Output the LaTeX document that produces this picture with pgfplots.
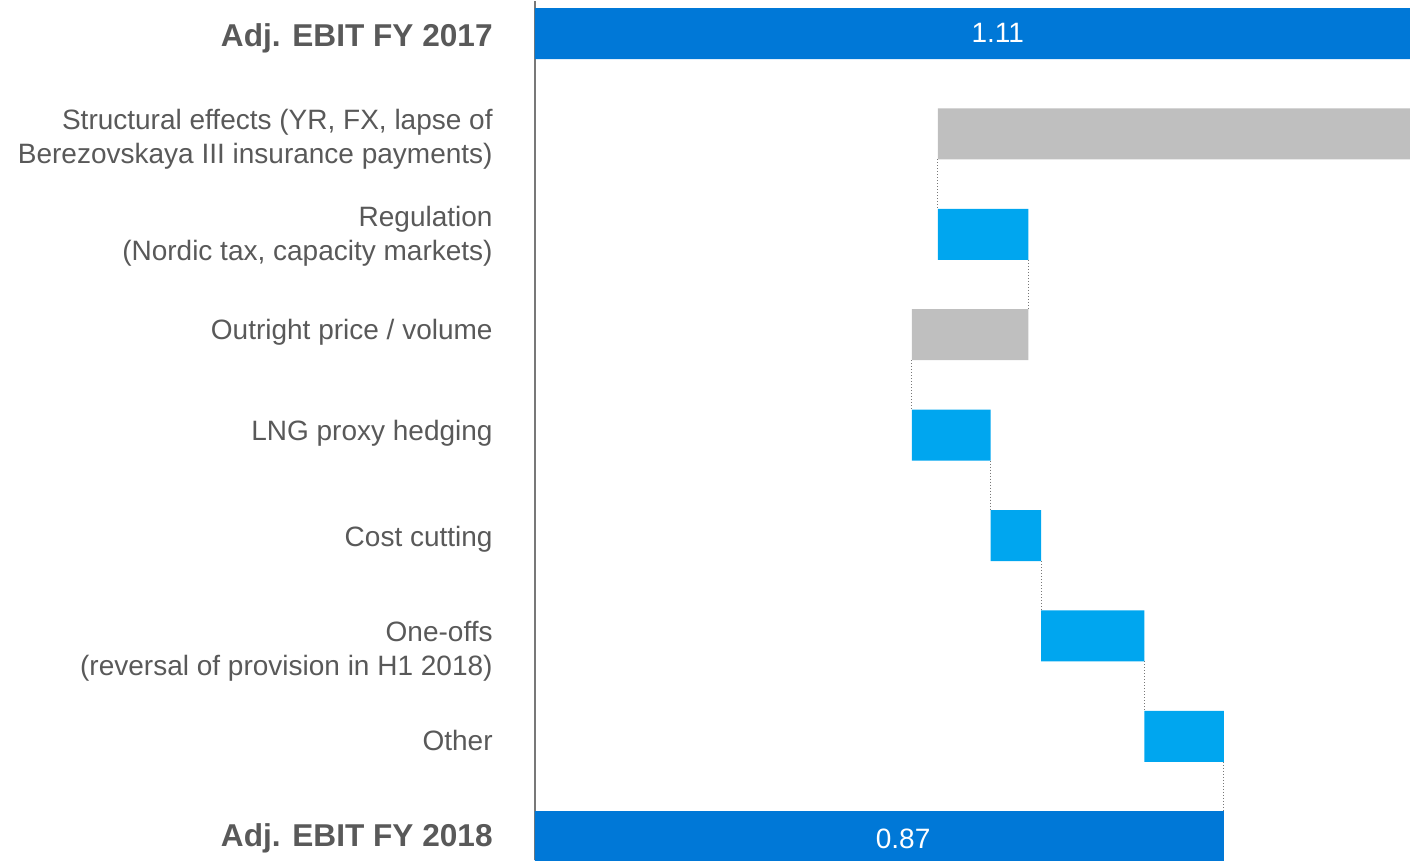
\documentclass[border=0pt]{standalone}
\usepackage{pgfplots}
\pgfplotsset{compat=1.18}
\usepackage{fontspec}
\setmainfont{Liberation Sans}
\definecolor{darkblue}{RGB}{0,120,215}
\definecolor{lightblue}{RGB}{0,166,239}
\definecolor{barGrey}{RGB}{191,191,191}
\definecolor{txtGrey}{RGB}{89,89,89}
\definecolor{axGrey}{RGB}{120,120,120}
\newcommand{\boldlab}[1]{\fontsize{15.8}{18}\selectfont\bfseries #1}
\begin{document}
\begin{tikzpicture}
\begin{axis}[
  scale only axis,
  width=437.5pt, height=429.5pt,
  xmin=0, xmax=1.11,
  ymin=-0.324, ymax=8.232,
  y dir=reverse,
  hide x axis,
  axis y line*=left,
  y axis line style={draw=axGrey, line width=1pt},
  xbar stacked,
  bar width=0.508,
  ytick={0.05,1.05,2.02,2.98,3.98,5.04,6.15,7.04,8.02},
  yticklabels={
    {\boldlab{Adj. EBIT FY 2017}},
    {Structural effects (YR, FX, lapse of\\Berezovskaya III insurance payments)},
    {Regulation\\(Nordic tax, capacity markets)},
    {Outright price / volume},
    {LNG proxy hedging},
    {Cost cutting},
    {One-offs\\(reversal of provision in H1 2018)},
    {Other},
    {\boldlab{Adj. EBIT FY 2018}}},
  major tick length=0pt,
  yticklabel style={align=right, anchor=east, inner xsep=0pt, xshift=-21pt,
    font=\fontsize{14}{17}\selectfont, text=txtGrey},
  clip=true,
]
% invisible base
\addplot[draw=none, fill=none] coordinates {
 (0,0) (0.511,1) (0.511,2) (0.478,3) (0.478,4) (0.578,5) (0.642,6) (0.773,7) (0,8)};
% totals
\addplot[draw=none, fill=darkblue] coordinates {
 (1.11,0) (0,1) (0,2) (0,3) (0,4) (0,5) (0,6) (0,7) (0.874,8)};
% negatives (grey)
\addplot[draw=none, fill=barGrey] coordinates {
 (0,0) (0.599,1) (0,2) (0.148,3) (0,4) (0,5) (0,6) (0,7) (0,8)};
% positives (light blue)
\addplot[draw=none, fill=lightblue] coordinates {
 (0,0) (0,1) (0.115,2) (0,3) (0.100,4) (0.064,5) (0.131,6) (0.101,7) (0,8)};
% connectors
\addplot[stack plots=false, draw=axGrey, densely dotted, line width=0.5pt, unbounded coords=jump, mark=none, sharp plot] coordinates {
 (0.511,1.254) (0.511,1.746) (nan,nan)
 (0.626,2.254) (0.626,2.746) (nan,nan)
 (0.478,3.254) (0.478,3.746) (nan,nan)
 (0.578,4.254) (0.578,4.746) (nan,nan)
 (0.642,5.254) (0.642,5.746) (nan,nan)
 (0.773,6.254) (0.773,6.746) (nan,nan)
 (0.873,7.254) (0.873,7.746)};
\coordinate (labA) at (axis cs:0.587,-0.01);
\coordinate (labB) at (axis cs:0.467,8.02);
\end{axis}
\node[text=white, font=\fontsize{14}{16}\selectfont] at (labA) {1.11};
\node[text=white, font=\fontsize{14}{16}\selectfont] at (labB) {0.87};
\path[use as bounding box] (current axis.south west) ++(-267.5pt,0) rectangle (current axis.north east);
\end{tikzpicture}
\end{document}
